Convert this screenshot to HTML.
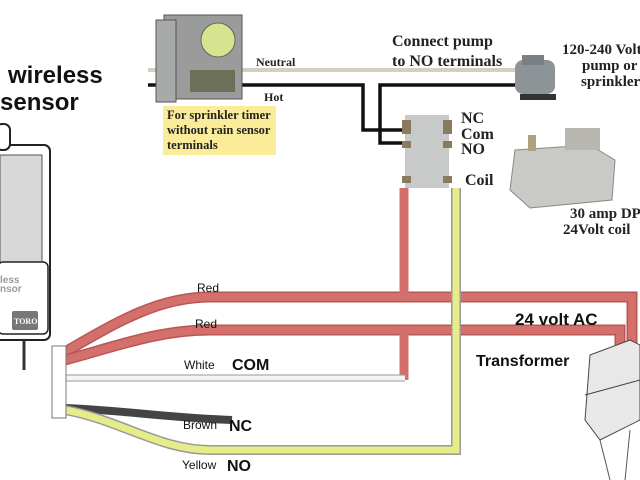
<!DOCTYPE html>
<html><head><style>body{margin:0;background:#fff}svg{display:block}</style></head><body>
<svg width="640" height="480" viewBox="0 0 640 480" xmlns="http://www.w3.org/2000/svg" font-family="Liberation Sans, sans-serif">
<rect width="640" height="480" fill="#fff"/>
<!-- top wires -->
<line x1="148" y1="70" x2="515" y2="70" stroke="#d6cfbf" stroke-width="4"/>
<path d="M148 85 H363 V130 H405" fill="none" stroke="#111" stroke-width="3.5"/>
<path d="M515 85 H380 V143 H405" fill="none" stroke="#111" stroke-width="3.5"/>
<!-- timer -->
<rect x="164" y="15" width="78" height="84" fill="#9a9c9c" stroke="#555"/>
<rect x="156" y="20" width="20" height="82" fill="#a8aaaa" stroke="#555"/>
<circle cx="218" cy="40" r="17" fill="#d6e38f" stroke="#666"/>
<rect x="190" y="70" width="45" height="22" fill="#6c7058"/>
<rect x="163" y="106" width="113" height="49" fill="#fbec9a"/>
<g font-family="Liberation Serif, serif" font-weight="bold" font-size="12.5" fill="#222">
<text x="167" y="119">For sprinkler timer</text>
<text x="167" y="134">without rain sensor</text>
<text x="167" y="149">terminals</text>
<text x="256" y="66" font-size="12">Neutral</text>
<text x="264" y="101" font-size="12">Hot</text>
<text x="392" y="46" font-size="16">Connect pump</text>
<text x="392" y="66" font-size="16">to NO terminals</text>
<text x="562" y="54" font-size="15">120-240 Volt</text>
<text x="582" y="70" font-size="15">pump or</text>
<text x="581" y="86" font-size="15">sprinkler</text>
<text x="461" y="123" font-size="16">NC</text>
<text x="461" y="139" font-size="16">Com</text>
<text x="461" y="154" font-size="16">NO</text>
<text x="465" y="185" font-size="16">Coil</text>
<text x="570" y="218" font-size="15">30 amp DP</text>
<text x="563" y="234" font-size="15">24Volt coil</text>
</g>
<!-- motor -->
<rect x="515" y="60" width="40" height="34" rx="8" fill="#8d9498"/>
<rect x="522" y="55" width="22" height="10" fill="#7a8084"/>
<rect x="520" y="94" width="36" height="6" fill="#333"/>
<!-- relay schematic -->
<rect x="405" y="115" width="44" height="73" fill="#c8c9c9"/>
<g fill="#8a7a60"><rect x="402" y="120" width="9" height="7"/><rect x="402" y="127" width="9" height="7"/><rect x="402" y="141" width="9" height="7"/><rect x="443" y="120" width="9" height="7"/><rect x="443" y="127" width="9" height="7"/><rect x="443" y="141" width="9" height="7"/><rect x="402" y="176" width="9" height="7"/><rect x="443" y="176" width="9" height="7"/></g>
<!-- relay photo -->
<path d="M515 150 L590 145 L615 160 L612 200 L530 208 L510 190 Z" fill="#c9c9c6" stroke="#888"/>
<rect x="528" y="135" width="8" height="16" fill="#b0a080"/>
<rect x="565" y="128" width="35" height="22" fill="#b7b7b0"/>
<!-- wires bottom -->
<path d="M65 352 C120 320 160 297 210 297 H632 V345" fill="none" stroke="#b55" stroke-width="11"/>
<path d="M65 352 C120 320 160 297 210 297 H632 V345" fill="none" stroke="#d4706c" stroke-width="8"/>
<path d="M404 188 V297" fill="none" stroke="#d4706c" stroke-width="9"/>
<path d="M65 360 C120 345 160 330 210 330 H620 V345" fill="none" stroke="#b55" stroke-width="11"/>
<path d="M65 360 C120 345 160 330 210 330 H620 V345" fill="none" stroke="#d4706c" stroke-width="8"/>
<path d="M404 330 V380" fill="none" stroke="#d4706c" stroke-width="9"/>
<line x1="65" y1="378" x2="405" y2="378" stroke="#999" stroke-width="7"/>
<line x1="65" y1="378" x2="405" y2="378" stroke="#f4f4f4" stroke-width="5"/>
<path d="M65 408 C120 410 170 418 232 420" fill="none" stroke="#444" stroke-width="8"/>
<path d="M65 410 C120 420 160 450 210 450 H456 V188" fill="none" stroke="#999" stroke-width="10"/>
<path d="M65 410 C120 420 160 450 210 450 H456 V188" fill="none" stroke="#e6ec8a" stroke-width="7"/>
<rect x="52" y="346" width="14" height="72" fill="#fff" stroke="#777"/>
<!-- transformer -->
<path d="M590 355 L630 340 L640 345 L640 420 L600 440 L585 420 Z" fill="#e8e8e8" stroke="#444"/>
<path d="M585 395 L640 380" stroke="#444"/>
<path d="M600 440 L610 480 M630 430 L625 480" stroke="#555" fill="none"/>
<!-- sensor device -->
<rect x="-8" y="145" width="58" height="195" rx="6" fill="#fff" stroke="#222" stroke-width="2"/>
<rect x="-4" y="124" width="14" height="26" rx="6" fill="#fff" stroke="#222" stroke-width="2"/>
<rect x="0" y="155" width="42" height="108" fill="#d8d8d8" stroke="#555"/>
<rect x="-2" y="262" width="50" height="72" rx="5" fill="#fff" stroke="#222" stroke-width="1.5"/>
<rect x="12" y="311" width="26" height="19" rx="2" fill="#777"/>
<text x="14" y="324" font-size="8" fill="#fff" font-family="Liberation Serif, serif" font-weight="bold">TORO</text>
<text x="0" y="283" font-size="10" fill="#999" font-weight="bold">less</text>
<text x="0" y="292" font-size="10" fill="#999" font-weight="bold">nsor</text>
<line x1="24" y1="340" x2="24" y2="370" stroke="#333" stroke-width="3"/>
<g font-weight="bold" fill="#111">
<text x="8" y="83" font-size="24">wireless</text>
<text x="0" y="110" font-size="24">sensor</text>
<text x="515" y="325" font-size="17">24 volt AC</text>
<text x="476" y="366" font-size="16">Transformer</text>
<text x="232" y="370" font-size="16">COM</text>
<text x="229" y="431" font-size="16">NC</text>
<text x="227" y="471" font-size="16">NO</text>
</g>
<g font-size="12" fill="#111">
<text x="197" y="292">Red</text>
<text x="195" y="328">Red</text>
<text x="184" y="369">White</text>
<text x="183" y="429">Brown</text>
<text x="182" y="469">Yellow</text>
</g>
</svg>
</body></html>
